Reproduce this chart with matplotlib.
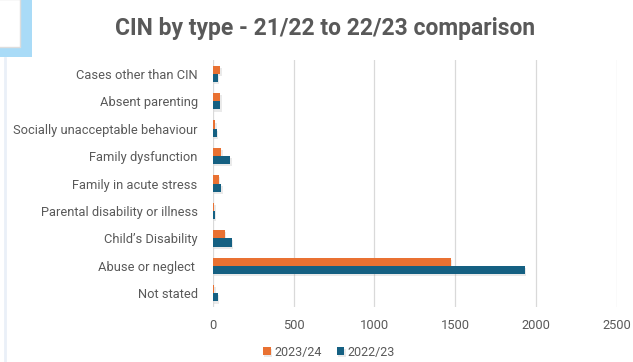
import numpy as np
import matplotlib.pyplot as plt
import matplotlib.patheffects as pe
from matplotlib.patches import Rectangle

categories = ["Cases other than CIN", "Absent parenting", "Socially unacceptable behaviour",
              "Family dysfunction", "Family in acute stress", "Parental disability or illness",
              "Child\u2019s Disability", "Abuse or neglect ", "Not stated"]
y2324 = [45, 45, 14, 52, 37, 8, 72, 1474, 8]
y2223 = [31, 45, 25, 107, 52, 10, 116, 1932, 31]
series_labels = ["2023/24", "2022/23"]
xticks = [0, 500, 1000, 1500, 2000, 2500]

orange = "#E97132"
blue = "#156082"
text_col = "#595959"

plt.rcParams['font.family'] = ['Roboto', 'DejaVu Sans']

fig = plt.figure(figsize=(6.33, 3.62), dpi=100)
ax = fig.add_axes([0.3365, 0.152, 0.6375, 0.682])

pos = np.arange(len(categories))
h = 0.3
shadow = [pe.SimplePatchShadow(offset=(1, -1.5), shadow_rgbFace="#999999", alpha=0.2), pe.Normal()]
ax.barh(pos - h / 2, y2324, height=h, color=orange, label=series_labels[0], path_effects=shadow, zorder=3)
ax.barh(pos + h / 2, y2223, height=h, color=blue, label=series_labels[1], path_effects=shadow, zorder=3)

ax.set_ylim(len(categories) - 0.5, -0.5)
ax.set_xlim(0, 2500)
ax.set_xticks(xticks)
ax.set_yticks(pos)
ax.set_yticklabels(categories)
ax.tick_params(axis='both', length=0, colors=text_col, labelsize=9.3)
ax.tick_params(axis='x', pad=9)
ax.tick_params(axis='y', pad=11)
ax.grid(axis='x', color="#d9d9d9", linewidth=0.9, zorder=0)
for s in ax.spines.values():
    s.set_visible(False)

fig.text(0.514, 0.92, "CIN by type - 21/22 to 22/23 comparison", ha='center', va='center',
         fontsize=16.5, fontweight='bold', color=text_col)

fig.legend(loc='center', bbox_to_anchor=(0.52, 0.027), ncol=2, frameon=False,
           fontsize=9, labelcolor=text_col, handlelength=0.6, handleheight=0.6,
           handletextpad=0.3, columnspacing=1.2)

# screenshot leftovers at the top-left corner
fig.patches.append(Rectangle((0, 1 - 57 / 362), 32 / 633, 57 / 362, transform=fig.transFigure,
                             facecolor="#a9dbf7", edgecolor='none', zorder=0))
fig.patches.append(Rectangle((-0.01, 1 - 47 / 362), 26 / 633, 48 / 362, transform=fig.transFigure,
                             facecolor="white", edgecolor="#dddddd", linewidth=1, zorder=1))
fig.lines.append(plt.Line2D([4.5 / 633, 4.5 / 633], [0, 1 - 58 / 362], transform=fig.transFigure,
                            color="#eaf0f8", linewidth=2))

fig.savefig("out.png", dpi=100)
